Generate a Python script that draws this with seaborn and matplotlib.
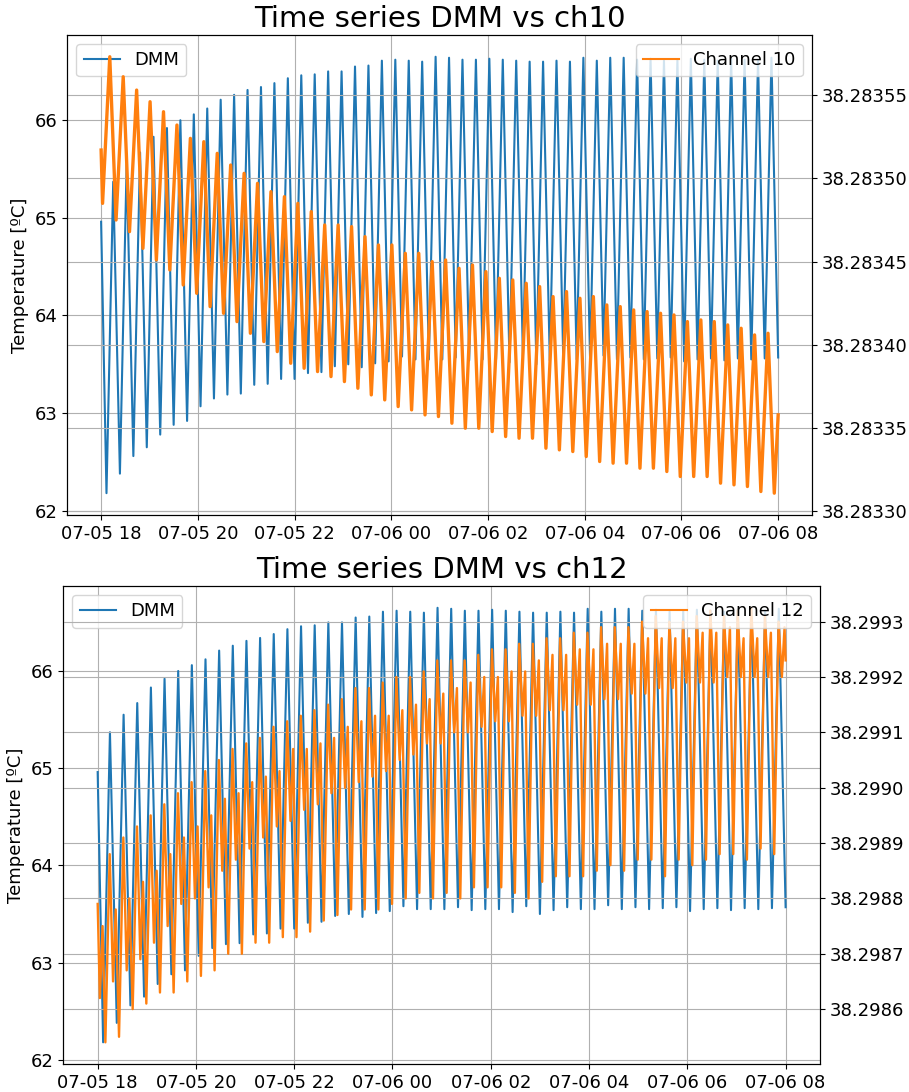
import numpy as np
import pandas as pd
import matplotlib
matplotlib.use("Agg")
import matplotlib.pyplot as plt
import matplotlib.dates as mdates
from matplotlib.ticker import ScalarFormatter
import seaborn as sns

# ---------------------------------------------------------------------------
# Run: 07-05 18:00 -> 07-06 08:00, thermal cycling with a period of 1000 s.
# Each series is stored as its turning points per cycle.
# ---------------------------------------------------------------------------
START = pd.Timestamp("2022-07-05 18:00")
PERIOD_H = 1000.0 / 3600.0
END_H = 14.0

# DMM reference temperature [ºC]
dmm_start = 64.96
dmm_end = 63.57
dmm_troughs = [62.18, 62.38, 62.56, 62.65, 62.78, 62.88, 62.92, 63.07, 63.15, 63.19,
               63.20, 63.29, 63.30, 63.35, 63.35, 63.41, 63.42, 63.48, 63.50, 63.47,
               63.51, 63.53, 63.58, 63.55, 63.55, 63.55, 63.57, 63.54, 63.55, 63.55,
               63.52, 63.58, 63.50, 63.54, 63.57, 63.55, 63.55, 63.59, 63.55, 63.57,
               63.55, 63.56, 63.57, 63.53, 63.55, 63.56, 63.54, 63.56, 63.55, 63.56]
dmm_peaks = [65.37, 65.55, 65.67, 65.83, 65.92, 66.00, 66.06, 66.12, 66.21, 66.26,
             66.31, 66.34, 66.38, 66.43, 66.46, 66.47, 66.50, 66.50, 66.55, 66.56,
             66.61, 66.62, 66.61, 66.60, 66.65, 66.64, 66.62, 66.62, 66.63, 66.62,
             66.61, 66.60, 66.60, 66.61, 66.60, 66.64, 66.61, 66.64, 66.64, 66.62,
             66.63, 66.61, 66.62, 66.63, 66.62, 66.61, 66.63, 66.62, 66.62, 66.64]

# Channel 10 readout
ch10_lead = [38.283517, 38.283485]
ch10_end = 38.283358
ch10_peaks = [38.283573, 38.283561, 38.283553, 38.283546, 38.283540, 38.283532, 38.283524, 38.283522, 38.283515, 38.283508,
              38.283503, 38.283497, 38.283492, 38.283489, 38.283485, 38.283480, 38.283472, 38.283472, 38.283471, 38.283465,
              38.283460, 38.283460, 38.283455, 38.283455, 38.283450, 38.283451, 38.283446, 38.283448, 38.283444, 38.283440,
              38.283439, 38.283437, 38.283435, 38.283429, 38.283432, 38.283428, 38.283429, 38.283424, 38.283423, 38.283421,
              38.283420, 38.283419, 38.283418, 38.283414, 38.283415, 38.283414, 38.283412, 38.283410, 38.283406, 38.283407]
ch10_troughs = [38.283475, 38.283468, 38.283458, 38.283451, 38.283445, 38.283436, 38.283431, 38.283423, 38.283419, 38.283414,
                38.283407, 38.283402, 38.283396, 38.283389, 38.283386, 38.283384, 38.283381, 38.283378, 38.283374, 38.283370,
                38.283367, 38.283363, 38.283361, 38.283358, 38.283357, 38.283353, 38.283350, 38.283350, 38.283348, 38.283345,
                38.283344, 38.283344, 38.283338, 38.283337, 38.283336, 38.283333, 38.283330, 38.283329, 38.283329, 38.283326,
                38.283326, 38.283324, 38.283321, 38.283321, 38.283321, 38.283317, 38.283316, 38.283315, 38.283312, 38.283311]

# Channel 12 readout: trough, main peak, dip, secondary peak per cycle
ch12_lead = [38.29879, 38.29862, 38.29875]
ch12_end = 38.29923
ch12_troughs = [38.29854, 38.29855, 38.29860, 38.29861, 38.29863, 38.29863, 38.29865, 38.29866, 38.29867, 38.29870,
                38.29870, 38.29872, 38.29872, 38.29873, 38.29873, 38.29874, 38.29876, 38.29877, 38.29878, 38.29878,
                38.29878, 38.29879, 38.29880, 38.29881, 38.29880, 38.29881, 38.29880, 38.29882, 38.29882, 38.29882,
                38.29881, 38.29880, 38.29883, 38.29884, 38.29884, 38.29884, 38.29885, 38.29886, 38.29885, 38.29887,
                38.29887, 38.29884, 38.29887, 38.29886, 38.29887, 38.29888, 38.29888, 38.29887, 38.29889, 38.29888]
ch12_main = [38.29888, 38.29891, 38.29893, 38.29895, 38.29897, 38.29899, 38.29901, 38.29903, 38.29905, 38.29907,
             38.29908, 38.29909, 38.29911, 38.29912, 38.29913, 38.29914, 38.29915, 38.29916, 38.29918, 38.29918,
             38.29919, 38.29920, 38.29920, 38.29921, 38.29923, 38.29923, 38.29923, 38.29924, 38.29925, 38.29925,
             38.29926, 38.29926, 38.29927, 38.29927, 38.29928, 38.29928, 38.29929, 38.29929, 38.29929, 38.29930,
             38.29931, 38.29930, 38.29930, 38.29931, 38.29932, 38.29931, 38.29932, 38.299325, 38.29931, 38.29930]
ch12_dips = [38.29865, 38.29867, 38.29869, 38.29872, 38.29875, 38.29879, 38.29880, 38.29882, 38.29885, 38.29887,
             38.29889, 38.29891, 38.29893, 38.29894, 38.29896, 38.29897, 38.29899, 38.29900, 38.29901, 38.29902,
             38.29903, 38.29905, 38.29906, 38.29908, 38.29908, 38.29910, 38.29910, 38.29911, 38.29912, 38.29912,
             38.29913, 38.29913, 38.29914, 38.29914, 38.29915, 38.29915, 38.29916, 38.29916, 38.29917, 38.29917,
             38.29918, 38.29918, 38.29919, 38.29919, 38.29919, 38.29920, 38.29920, 38.29920, 38.29920, 38.29920]
ch12_second = [38.29878, 38.29880, 38.29883, 38.29885, 38.29888, 38.29891, 38.29893, 38.29895, 38.29898, 38.29899,
               38.29901, 38.29902, 38.29903, 38.29907, 38.29907, 38.29908, 38.29909, 38.29911, 38.29912, 38.29913,
               38.29913, 38.29914, 38.29915, 38.29916, 38.29917, 38.29918, 38.29919, 38.29920, 38.29920, 38.29921,
               38.29921, 38.29923, 38.29924, 38.29924, 38.29925, 38.29925, 38.29926, 38.29926, 38.29926, 38.29927,
               38.29927, 38.29927, 38.29927, 38.29928, 38.29928, 38.29929, 38.29927, 38.29927, 38.29928, 38.29929]


def stamps(hours):
    return START + pd.to_timedelta(np.asarray(hours, dtype=float), unit="h")


def cycle_series(first_peak_h, offsets, columns, lead_h, lead_v, end_v):
    """Interleave per-cycle turning points into one time-ordered series."""
    k = np.arange(len(columns[0]))
    base = first_peak_h + k * PERIOD_H
    t = np.column_stack([base + off for off in offsets]).ravel()
    v = np.column_stack(columns).ravel()
    t = np.concatenate([lead_h, t, [END_H]])
    v = np.concatenate([lead_v, v, [end_v]])
    return pd.DataFrame({"time": stamps(t), "value": v})


dmm = cycle_series(0.25, [-0.139, 0.0], [dmm_troughs, dmm_peaks],
                   [0.0], [dmm_start], dmm_end)
ch10 = cycle_series(0.179, [0.0, 0.13], [ch10_peaks, ch10_troughs],
                    [0.0, 0.03], ch10_lead, ch10_end)
ch12 = cycle_series(0.245, [-0.088, 0.0, 0.068, 0.122],
                    [ch12_troughs, ch12_main, ch12_dips, ch12_second],
                    [0.0, 0.045, 0.10], ch12_lead, ch12_end)

FS = 13
fig = plt.figure(figsize=(9.09, 10.92), dpi=100)
ax_top = fig.add_axes([0.0740, 0.5284, 0.8193, 0.4396])
ax_bot = fig.add_axes([0.0696, 0.0256, 0.8325, 0.4377])

panels = [(ax_top, ch10, "Channel 10", "Time series DMM vs ch10", 2.4),
          (ax_bot, ch12, "Channel 12", "Time series DMM vs ch12", 1.7)]

for ax, chan, chan_label, title, lw in panels:
    sns.lineplot(data=dmm, x="time", y="value", ax=ax, color="#1f77b4",
                 linewidth=1.5, label="DMM")
    ax2 = ax.twinx()
    sns.lineplot(data=chan, x="time", y="value", ax=ax2, color="#ff7f0e",
                 linewidth=lw, label=chan_label)

    ax.set_title(title, fontsize=21)
    ax.set_xlabel("")
    ax.set_ylabel("Temperature [ºC]", fontsize=13)
    ax2.set_ylabel("")
    ax.xaxis.set_major_locator(mdates.HourLocator(byhour=range(0, 24, 2)))
    ax.xaxis.set_major_formatter(mdates.DateFormatter("%m-%d %H"))
    ax2.yaxis.set_major_formatter(ScalarFormatter(useOffset=False))
    ax.tick_params(labelsize=FS)
    ax2.tick_params(labelsize=FS)
    ax.grid(True)
    ax2.grid(True)
    ax.legend(loc="upper left", fontsize=13)
    leg = ax2.legend(loc="upper right", fontsize=13)
    for handle in leg.get_lines():
        handle.set_linewidth(1.5)

fig.savefig("out.png", dpi=100)
